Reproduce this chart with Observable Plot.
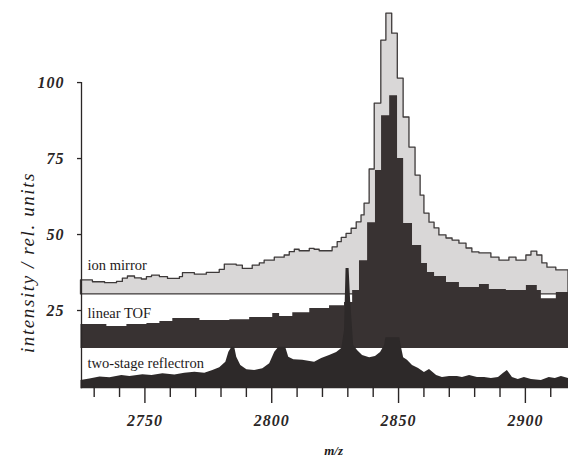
<!DOCTYPE html>
<html>
<head>
<meta charset="utf-8">
<script src="https://cdn.jsdelivr.net/npm/d3@7"></script>
<script src="https://cdn.jsdelivr.net/npm/@observablehq/plot@0.6"></script>
<style>
  html, body { margin: 0; padding: 0; background: #ffffff; }
  #chart { width: 568px; height: 458px; }
  g[aria-label="y-axis tick label"] text, g[aria-label="x-axis tick label"] text { letter-spacing: 1px; }
</style>
</head>
<body>
<div id="chart"></div>
<script>
// m/z range and tick values
const xDomain = [2725, 2917];
const yTicks = [25, 50, 75, 100];
const xMajorTicks = [2750, 2800, 2850, 2900];
const xMinorTicks = [2730, 2740, 2760, 2770, 2780, 2790, 2810, 2820, 2830, 2840, 2860, 2870, 2880, 2890, 2910];

// baselines of the stacked traces (rel. units)
const ionMirrorBase = 30.3;
const linearTOFBase = 12.5;
const reflectronBase = -0.7;

// labels
const traceLabels = ["ion mirror", "linear TOF", "two-stage reflectron"];
const traceLabelY = [40.0, 24.0, 7.6];

// ion mirror: [m/z, top of trace]
const ionMirror = [
  [2724.8, 34.9], [2729.5, 34.3], [2734.3, 34.0], [2739.0, 34.4], [2741.3, 35.5], [2743.3, 36.2],
  [2746.1, 35.6], [2748.8, 35.2], [2750.8, 36.0], [2752.8, 36.5], [2755.9, 36.0], [2759.1, 35.4],
  [2763.8, 36.0], [2765.0, 37.3], [2769.7, 36.8], [2774.4, 37.4], [2779.5, 38.4], [2781.5, 40.1],
  [2786.2, 39.8], [2788.6, 38.7], [2792.5, 39.8], [2795.3, 40.5], [2797.2, 41.4], [2801.2, 42.4],
  [2805.1, 43.1], [2807.1, 44.2], [2809.1, 45.0], [2811.0, 44.5], [2815.0, 45.3], [2816.9, 45.0],
  [2818.9, 44.5], [2824.0, 45.8], [2826.0, 47.5], [2827.6, 48.9], [2829.5, 50.2], [2831.5, 51.9],
  [2833.5, 54.0], [2835.4, 56.3], [2836.6, 60.2], [2838.6, 71.4], [2840.6, 93.1], [2843.2, 113.8],
  [2845.2, 122.7], [2847.5, 116.1], [2849.7, 101.3], [2852.0, 88.5], [2854.3, 78.6], [2856.7, 69.4],
  [2858.7, 62.8], [2860.2, 56.9], [2862.2, 53.9], [2864.2, 52.0], [2866.1, 49.7], [2868.9, 48.7],
  [2871.3, 48.0], [2874.0, 47.0], [2876.8, 45.4], [2879.1, 44.1], [2881.9, 43.8], [2886.6, 42.4],
  [2889.8, 41.4], [2893.7, 42.4], [2896.5, 41.4], [2900.4, 43.1], [2902.4, 44.4], [2904.7, 43.1],
  [2906.7, 40.5], [2908.7, 39.1], [2912.2, 38.2], [2917.0, 38.2]
];

// linear TOF: [m/z, top of trace]
const linearTOF = [
  [2724.8, 20.4], [2735.0, 19.7], [2742.9, 20.4], [2750.8, 20.7], [2755.9, 21.4], [2761.0, 22.4],
  [2771.7, 21.7], [2783.5, 22.0], [2791.3, 22.7], [2800.4, 24.0], [2803.1, 23.0], [2808.3, 24.3],
  [2815.0, 25.7], [2822.8, 26.6], [2828.7, 27.6], [2831.9, 31.6], [2834.6, 41.4], [2837.8, 53.9],
  [2840.9, 71.1], [2843.3, 89.1], [2846.5, 95.7], [2849.6, 75.0], [2852.0, 53.6], [2855.5, 46.4],
  [2859.1, 40.5], [2861.4, 37.5], [2864.2, 36.2], [2868.9, 34.2], [2874.0, 32.6], [2881.9, 33.6],
  [2885.8, 31.9], [2892.5, 31.6], [2900.4, 33.2], [2904.7, 31.6], [2906.3, 28.9], [2912.2, 30.9],
  [2917.0, 30.9]
];

// two-stage reflectron: [m/z, top of trace]
const reflectron = [
  [2724.8, 2.0], [2728.3, 2.5], [2732.3, 3.1], [2736.2, 2.9], [2740.9, 3.6], [2744.1, 3.3],
  [2749.2, 3.9], [2752.8, 3.6], [2757.1, 4.2], [2761.8, 3.8], [2765.7, 4.4], [2769.7, 4.7],
  [2773.6, 4.4], [2776.8, 5.3], [2779.5, 6.2], [2781.9, 8.0], [2783.1, 11.3], [2784.3, 12.9],
  [2785.4, 12.9], [2786.2, 9.6], [2787.8, 6.9], [2790.2, 5.5], [2793.3, 5.3], [2796.5, 5.8],
  [2799.2, 7.5], [2801.2, 11.3], [2802.8, 12.9], [2805.5, 12.9], [2806.7, 9.6], [2808.7, 8.8],
  [2812.2, 8.6], [2816.9, 8.0], [2819.7, 9.2], [2822.8, 10.2], [2825.6, 11.2], [2827.6, 12.5],
  [2828.7, 18.4], [2829.3, 38.8], [2830.5, 38.8], [2831.1, 28.3], [2832.3, 13.5], [2833.9, 11.8],
  [2835.8, 10.2], [2838.6, 9.5], [2840.9, 9.9], [2842.9, 11.2], [2844.5, 13.5], [2845.0, 16.0],
  [2850.5, 16.0], [2851.0, 13.5], [2852.0, 9.5], [2853.5, 8.6], [2855.5, 6.9], [2857.9, 5.9], [2860.2, 4.6],
  [2862.2, 5.6], [2865.0, 3.6], [2867.3, 3.0], [2870.1, 3.3], [2873.2, 3.3], [2875.2, 3.0],
  [2878.0, 3.6], [2881.1, 3.0], [2883.9, 3.0], [2886.6, 2.6], [2889.4, 3.0], [2891.3, 4.3],
  [2892.9, 5.3], [2894.9, 3.0], [2897.2, 2.3], [2899.6, 3.0], [2902.4, 2.3], [2906.3, 2.0],
  [2909.4, 3.0], [2911.8, 2.6], [2914.2, 3.3], [2917.0, 2.6]
];

const serif = "'Liberation Serif', 'Times New Roman', serif";
const ink = "#2a2626";

const chart = Plot.plot({
  width: 568,
  height: 458,
  marginLeft: 81,
  marginRight: 0,
  marginTop: 0,
  marginBottom: 72,
  x: {domain: xDomain},
  y: {domain: [0, 127]},
  style: {fontFamily: serif, background: "#ffffff", color: ink, overflow: "visible"},
  marks: [
    Plot.areaY(ionMirror, {x: d => d[0], y1: () => ionMirrorBase, y2: d => d[1], curve: "step-after",
      fill: "#d9d7d7", stroke: "#3e3a3a", strokeWidth: 1.3}),
    Plot.areaY(linearTOF, {x: d => d[0], y1: () => linearTOFBase, y2: d => d[1], curve: "step-after",
      fill: "#383232"}),
    Plot.areaY(reflectron, {x: d => d[0], y1: () => reflectronBase, y2: d => d[1], curve: "linear",
      fill: "#2d2929"}),
    Plot.ruleX([xDomain[0]], {y1: reflectronBase, y2: 100, stroke: ink, strokeWidth: 1.3}),
    Plot.axisY({ticks: yTicks, tickSize: 4, tickPadding: 13, label: null, fontSize: 16,
      fontWeight: "bold", fontStyle: "italic", stroke: ink, strokeWidth: 1.3}),
    Plot.axisX({ticks: xMinorTicks, tickSize: 11, tickFormat: () => "", label: null,
      stroke: ink, strokeWidth: 1.4}),
    Plot.axisX({ticks: xMajorTicks, tickSize: 17, tickPadding: 11, tickFormat: d => String(d), label: null,
      fontSize: 16, fontWeight: "bold", fontStyle: "italic", stroke: ink, strokeWidth: 1.4}),
    Plot.text(traceLabels, {x: () => 2727.4, y: (d, i) => traceLabelY[i], text: d => d, textAnchor: "start",
      lineAnchor: "middle", fontSize: 14.5, fill: "#1e1a1a"}),
    Plot.text(["intensity / rel. units"], {x: () => xDomain[0], y: () => 40.8, dx: -54, rotate: -90,
      text: d => d, fontSize: 19, fontStyle: "italic", fill: "#1e1a1a"}),
    Plot.text(["m/z"], {x: () => 2824.4, y: () => 0, dy: 64, text: d => d, fontSize: 13,
      fontStyle: "italic", fontWeight: "bold", fill: "#1e1a1a"})
  ]
});

document.getElementById("chart").appendChild(chart);
d3.select(chart).selectAll("text").filter(function() { return this.textContent === "intensity / rel. units"; })
  .style("letter-spacing", "1.6px");
</script>
</body>
</html>
